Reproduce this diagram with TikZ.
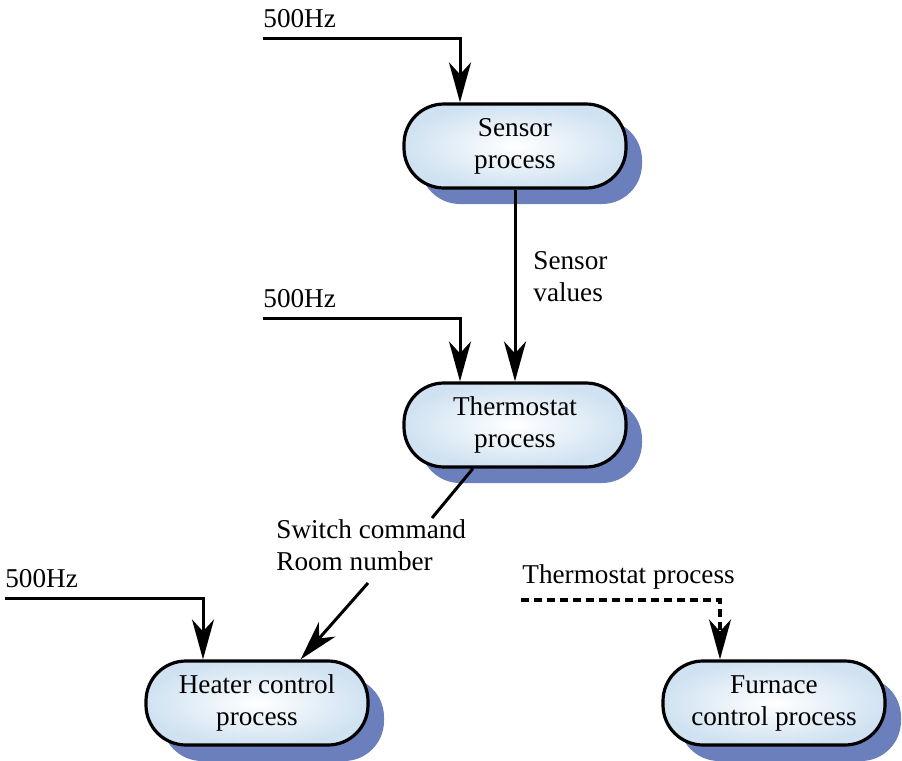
\documentclass[tikz,border=0pt]{standalone}
\usepackage{fontspec}
\setmainfont{Liberation Serif}
\usetikzlibrary{arrows.meta,shadows,positioning}
\definecolor{boxblue}{RGB}{208,226,241}
\definecolor{shadowblue}{RGB}{107,127,189}
\tikzset{
  proc/.style={draw, line width=1.6pt, rounded corners=20pt, inner color=white, outer color=boxblue,
    minimum width=111pt, minimum height=42pt, align=center, font=\fontsize{13.6}{16}\selectfont,
    drop shadow={shadow xshift=8pt, shadow yshift=-8pt, fill=shadowblue, opacity=1}},
  lbl/.style={align=left, inner sep=0pt, font=\fontsize{13.6}{16}\selectfont},
  flow/.style={line width=1.5pt, -{Stealth[length=20pt,width=11pt,inset=6pt]}}
}

\begin{document}
\begin{tikzpicture}[x=0.5pt, y=-0.5pt]
    \useasboundingbox (0,0) rectangle (902,761);
    % processes
    \node[proc] (sensor) at (515,146) {Sensor\\process};
    \node[proc] (therm) at (515,425) {Thermostat\\process};
    \node[proc] (heater) at (257,703) {Heater control\\process};
    \node[proc] (furnace) at (774,703) {Furnace\\control process};
    % labels
    \node[lbl, anchor=base west] (hzA) at (263,27) {500Hz};
    \node[lbl, anchor=base west] (hzB) at (263,307) {500Hz};
    \node[lbl, anchor=base west] (hzC) at (5,587) {500Hz};
    \node[lbl, anchor=north west] (vals) at (533,251) {Sensor\\values};
    \node[lbl, anchor=north west] (cmd) at (276,519) {Switch command\\Room number};
    \node[lbl, anchor=base west] (tproc) at (522,583) {Thermostat process};
    \coordinate (hzAin) at (263,38);
    \coordinate (hzBin) at (263,318);
    \coordinate (hzCin) at (5,598);
    \coordinate (cmdin) at (432,518);
    \coordinate (cmdout) at (368,583);
    \coordinate (tsrc) at (521,600);
    % connectors
    \draw[flow] (hzAin) -| ([xshift=-27.5pt]sensor.north);
    \draw[flow] (hzBin) -| ([xshift=-27.5pt]therm.north);
    \draw[flow] (hzCin) -| ([xshift=-27pt]heater.north);
    \draw[flow] (sensor) -- (therm);
    \draw[line width=1.5pt] (therm.226) -- (cmdin);
    \draw[flow] (cmdout) -- (heater.45);
    \draw[flow, line width=1.7pt, dash pattern=on 4pt off 2.5pt] (tsrc) -| ([xshift=-27pt]furnace.north);
\end{tikzpicture}
\end{document}
